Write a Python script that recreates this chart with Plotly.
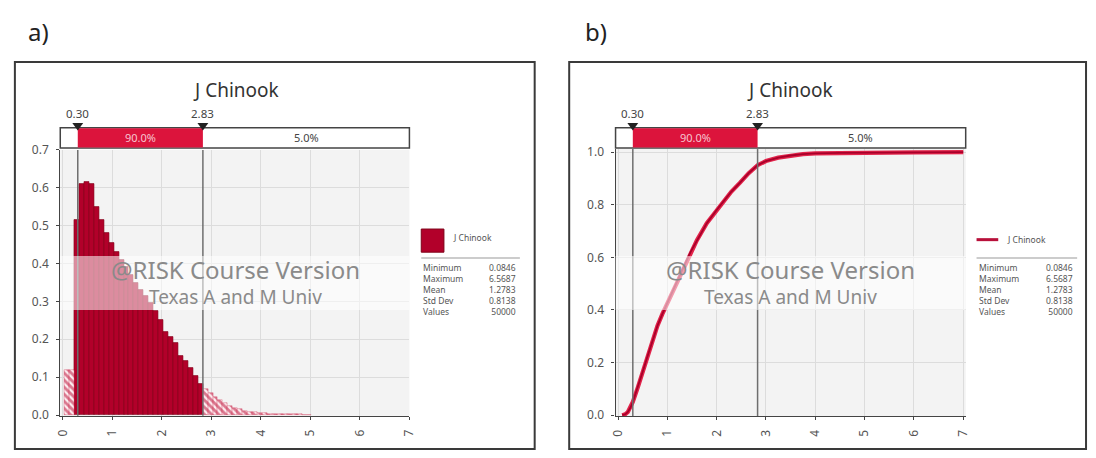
import plotly.graph_objects as go

W, H = 1096, 458

# ---- data -------------------------------------------------------------
series_name = "J Chinook"
lo_pct, hi_pct = 0.30, 2.83
band_labels = ["90.0%", "5.0%"]

# histogram (density), bins of width 0.1
bin_left = [0.03, 0.13, 0.23, 0.33, 0.43, 0.53, 0.63, 0.73, 0.83, 0.93,
            1.03, 1.13, 1.23, 1.33, 1.43, 1.53, 1.63, 1.73, 1.83, 1.93,
            2.03, 2.13, 2.23, 2.33, 2.43, 2.53, 2.63, 2.73, 2.83, 2.93,
            3.03, 3.13, 3.23, 3.33, 3.43, 3.53, 3.63, 3.73, 3.83, 3.93,
            4.03, 4.13, 4.23, 4.33, 4.43, 4.53, 4.63, 4.73, 4.83, 4.93]
density = [0.12, 0.12, 0.515, 0.61, 0.615, 0.61, 0.55, 0.515, 0.48, 0.455,
           0.43, 0.41, 0.39, 0.37, 0.35, 0.33, 0.315, 0.295, 0.275, 0.25,
           0.22, 0.205, 0.19, 0.155, 0.142, 0.125, 0.104, 0.083, 0.07, 0.058,
           0.048, 0.04, 0.032, 0.025, 0.02, 0.016, 0.012, 0.009, 0.007, 0.006,
           0.005, 0.004, 0.004, 0.003, 0.003, 0.002, 0.002, 0.002, 0.001, 0.001]
bin_width = 0.1

# cumulative curve
cdf_x = [0.0846, 0.15, 0.20, 0.25, 0.30, 0.40, 0.50, 0.60, 0.70, 0.80, 0.90,
         1.00, 1.13, 1.30, 1.47, 1.60, 1.80, 2.00, 2.13, 2.30, 2.47, 2.65,
         2.83, 3.00, 3.25, 3.50, 3.75, 4.00, 4.50, 5.00, 6.00, 7.00]
cdf_y = [0.0, 0.004, 0.012, 0.028, 0.05, 0.105, 0.165, 0.225, 0.285, 0.34, 0.385,
         0.425, 0.48, 0.55, 0.62, 0.665, 0.73, 0.78, 0.81, 0.85, 0.883, 0.92,
         0.95, 0.966, 0.979, 0.987, 0.992, 0.995, 0.997, 0.998, 0.999, 1.0]

stat_names = ["Minimum", "Maximum", "Mean", "Std Dev", "Values"]
stat_values = ["0.0846", "6.5687", "1.2783", "0.8138", "50000"]

x_ticks = [0, 1, 2, 3, 4, 5, 6, 7]
y_ticks_pdf = [0.0, 0.1, 0.2, 0.3, 0.4, 0.5, 0.6, 0.7]
y_ticks_cdf = [0.0, 0.2, 0.4, 0.6, 0.8, 1.0]

# ---- helpers ----------------------------------------------------------
def px(x):
    return x / W


def py(y):
    return 1 - y / H


FONT = "Noto Sans"
RED_SOLID = "#b2002a"
RED_EDGE = "#7e0018"
RED_BAND = "#dc143c"
AXIS = "#444444"
TXT = "#555555"

fig = go.Figure()

# histogram: inside and outside the 90% band
inside_x, inside_y, outside_x, outside_y = [], [], [], []
for left, d in zip(bin_left, density):
    centre = left + bin_width / 2
    if lo_pct - 0.08 <= centre <= hi_pct:
        inside_x.append(centre)
        inside_y.append(d)
    else:
        outside_x.append(centre)
        outside_y.append(d)

fig.add_trace(go.Bar(
    x=inside_x, y=inside_y, width=bin_width, xaxis="x", yaxis="y",
    marker=dict(color=RED_SOLID, line=dict(color=RED_EDGE, width=0.6)),
    showlegend=False, hoverinfo="skip"))
fig.add_trace(go.Bar(
    x=outside_x, y=outside_y, width=bin_width, xaxis="x", yaxis="y",
    marker=dict(color="#e47a90", line=dict(color="#c8143a", width=0.3),
                pattern=dict(shape="\\", fgcolor="#b5002c", bgcolor="#fdeef1",
                             size=5, solidity=0.55)),
    showlegend=False, hoverinfo="skip"))

# cumulative curve (light halo + dark core)
fig.add_trace(go.Scatter(
    x=cdf_x, y=cdf_y, xaxis="x2", yaxis="y2", mode="lines",
    line=dict(color="#e2234a", width=4.2),
    showlegend=False, hoverinfo="skip"))
fig.add_trace(go.Scatter(
    x=cdf_x, y=cdf_y, xaxis="x2", yaxis="y2", mode="lines",
    line=dict(color="#a8002a", width=1.8),
    showlegend=False, hoverinfo="skip"))

axis_common = dict(
    showline=True, linecolor=AXIS, linewidth=1.2, ticks="outside",
    ticklen=3, tickcolor=AXIS, tickfont=dict(family=FONT, size=12, color=TXT),
    ticklabelstandoff=5,
    showgrid=True, gridcolor="#dcdcdc", gridwidth=1, zeroline=False,
    fixedrange=True,
)

fig.update_layout(
    width=W, height=H,
    margin=dict(l=0, r=0, t=0, b=0),
    paper_bgcolor="white",
    plot_bgcolor="#f3f3f3",
    bargap=0,
    barmode="overlay",
    xaxis=dict(domain=[px(54), px(408)], range=[-0.054, 7.006], anchor="y",
               tickvals=x_ticks, tickangle=-90, **axis_common),
    yaxis=dict(domain=[py(421.5), py(146)], range=[-0.002, 0.7], anchor="x",
               tickvals=y_ticks_pdf, tickformat=".1f", **axis_common),
    xaxis2=dict(domain=[px(617), px(972)], range=[-0.05, 7.05], anchor="y2",
                tickvals=x_ticks, tickangle=-90, **axis_common),
    yaxis2=dict(domain=[py(421.7), py(145)], range=[-0.003, 1.012], anchor="x2",
                tickvals=y_ticks_cdf, tickformat=".1f", **axis_common),
)

shapes = []
annotations = []


def label(x, y, text, size, color=TXT, xanchor="center", xref="paper", **kw):
    annotations.append(dict(xref=xref, yref="paper", x=x, y=py(y), text=text,
                            showarrow=False, xanchor=xanchor, yanchor="middle",
                            font=dict(family=kw.pop("family", FONT), size=size,
                                      color=color), **kw))


# panel frames
for x0, x1 in [(8, 535), (570, 1094)]:
    shapes.append(dict(type="rect", xref="paper", yref="paper",
                       x0=px(x0), x1=px(x1), y0=py(456), y1=py(55),
                       line=dict(color="#3a3a3a", width=2), fillcolor="rgba(0,0,0,0)",
                       layer="below"))

panels = [
    dict(xa="x", ya="y", xd="x domain", cx=232, lg_x=420, val_x=518, kind="bar"),
    dict(xa="x2", ya="y2", xd="x2 domain", cx=794, lg_x=983, val_x=1083, kind="line"),
]

for p in panels:
    # title
    label(px(p["cx"]), 84, series_name, 19, color="#333333")
    # percentile strip
    shapes.append(dict(type="rect", xref=p["xd"], yref="paper", x0=0, x1=1,
                       y0=py(144), y1=py(123), fillcolor="white",
                       line=dict(color="#444444", width=1.5), layer="above"))
    shapes.append(dict(type="rect", xref=p["xa"], yref="paper", x0=lo_pct, x1=hi_pct,
                       y0=py(143.5), y1=py(123.5), fillcolor=RED_BAND,
                       line=dict(width=0), layer="above"))
    label((lo_pct + hi_pct) / 2, 133.5, band_labels[0], 11, color="#f7c4cf", xref=p["xa"])
    label((hi_pct + 7.0) / 2, 133.5, band_labels[1], 11, color="#444444", xref=p["xa"])
    for v in (lo_pct, hi_pct):
        # vertical marker line through the plot
        shapes.append(dict(type="line", xref=p["xa"], yref=p["ya"] + " domain",
                           x0=v, x1=v, y0=0, y1=1,
                           line=dict(color="#6e6e6e", width=1.5), layer="above"))
        # triangle marker on the strip
        shapes.append(dict(type="path", xref=p["xa"], yref="paper",
                           path=f"M {v-0.11},{py(118)} L {v+0.11},{py(118)} L {v},{py(126)} Z",
                           fillcolor="#222222", line=dict(width=0), layer="above"))
        label(v, 108, f"{v:.2f}", 11.5, color="#444444", xref=p["xa"])
    # translucent band behind the watermark
    shapes.append(dict(type="rect", xref=p["xd"], yref="paper", x0=0, x1=1,
                       y0=py(312), y1=py(256), fillcolor="rgba(255,255,255,0.55)",
                       line=dict(width=0), layer="above"))
    label(px(p["cx"]), 270, "@RISK Course Version", 24, color="#8a8a8a")
    label(px(p["cx"]), 298, "Texas A and M Univ", 19, color="#8a8a8a")

    # legend key
    lx = p["lg_x"]
    if p["kind"] == "bar":
        shapes.append(dict(type="rect", xref="paper", yref="paper",
                           x0=px(lx), x1=px(lx + 23), y0=py(252), y1=py(228),
                           fillcolor=RED_SOLID, line=dict(color=RED_EDGE, width=1)))
        label(px(lx + 30), 237, series_name, 8.5, xanchor="left")
    else:
        shapes.append(dict(type="line", xref="paper", yref="paper",
                           x0=px(lx), x1=px(lx + 22), y0=py(239), y1=py(239),
                           line=dict(color="#b8103a", width=3)))
        label(px(lx + 29), 239, series_name, 8.5, xanchor="left")
    shapes.append(dict(type="line", xref="paper", yref="paper",
                       x0=px(lx), x1=px(p["val_x"] + 2), y0=py(258), y1=py(258),
                       line=dict(color="#bbbbbb", width=1.5)))
    # statistics table: one block of names, one block of values
    label(px(lx), 291, "<br>".join(stat_names), 8.5, xanchor="left", align="left")
    label(px(p["val_x"]), 291, "<br>".join(stat_values), 8.5, xanchor="right",
          align="right")

# panel letters
label(px(19), 23, "a)", 24, color="#222222", xanchor="left")
label(px(584), 23, "b)", 24, color="#222222", xanchor="left")

fig.update_layout(shapes=shapes, annotations=annotations)
fig.write_html("out.html")
